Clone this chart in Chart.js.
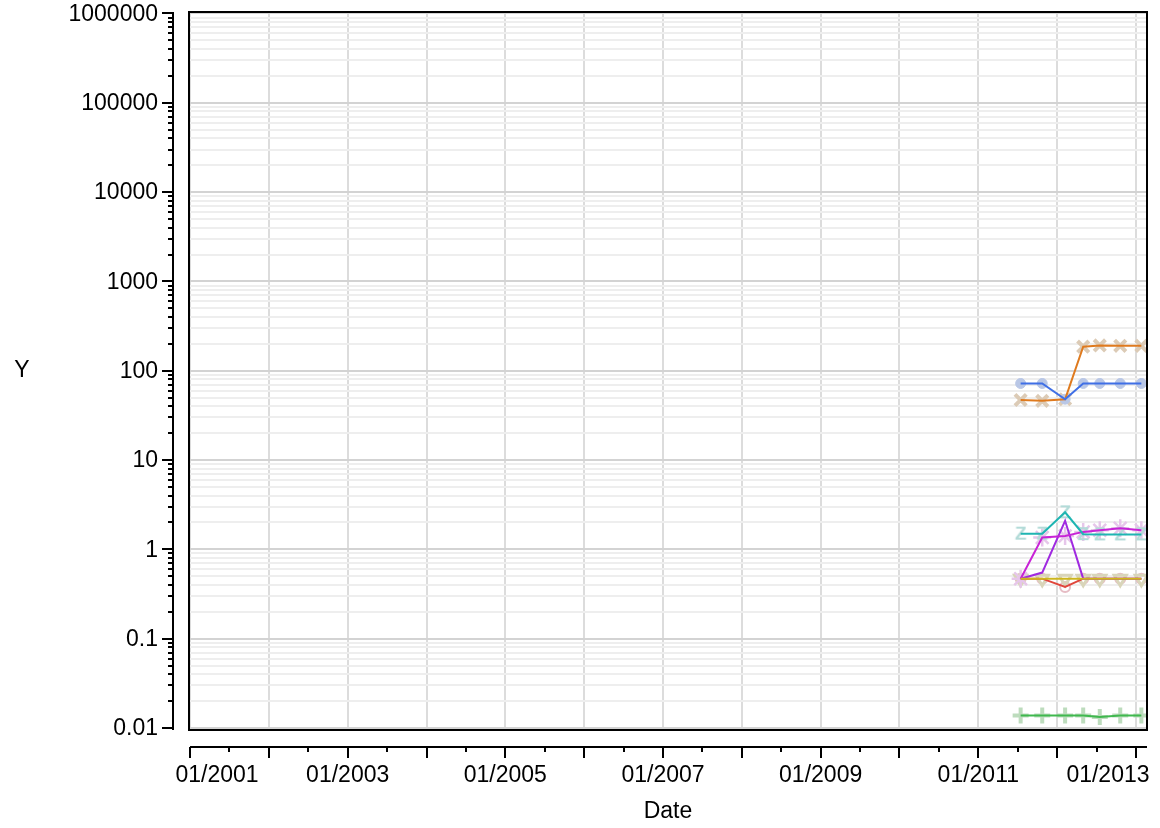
<!DOCTYPE html>
<html>
<head>
<meta charset="utf-8">
<script src="https://cdn.jsdelivr.net/npm/chart.js@4/dist/chart.umd.min.js"></script>
<style>
  html, body { margin: 0; padding: 0; background: #fff; }
  #wrap { width: 1160px; height: 828px; }
</style>
</head>
<body>
<div id="wrap"><canvas id="chart" width="1160" height="828"></canvas></div>
<script>
// Sample dates (one reading per quarter, roughly)
const sampleDates = ['2011-07-16', '2011-10-24', '2012-02-07', '2012-05-01', '2012-07-17', '2012-10-20', '2013-01-26'];

// Series values
const blueValues    = [72, 72, 48, 72, 72, 72, 72];
const orangeValues  = [47, 46, 48, 186, 192, 190, 190];
const tealValues    = [1.5, 1.5, 2.6, 1.48, 1.47, 1.47, 1.47];
const magentaValues = [0.47, 1.36, 1.41, 1.57, 1.64, 1.72, 1.64];
const purpleValues  = [0.47, 0.55, 2.09, 0.47, 0.47, 0.47, 0.47];
const redValues     = [0.47, 0.47, 0.38, 0.47, 0.47, 0.47, 0.47];
const goldValues    = [0.47, 0.47, 0.47, 0.47, 0.47, 0.47, 0.47];
const greenValues   = [0.0138, 0.0138, 0.0138, 0.0138, 0.0133, 0.0138, 0.0138];

// Axis ticks
const yTickValues = [0.01, 0.1, 1, 10, 100, 1000, 10000, 100000, 1000000];
const yTickLabels = ['0.01', '0.1', '1', '10', '100', '1000', '10000', '100000', '1000000'];
const xLabelYears = [2001, 2003, 2005, 2007, 2009, 2011, 2013];
const xGridYears  = [2001, 2002, 2003, 2004, 2005, 2006, 2007, 2008, 2009, 2010, 2011, 2012, 2013];

const FONT = '23px "Liberation Sans", Arial, sans-serif';

// date string -> fractional year
function toYear(s) {
    const d = new Date(s + 'T00:00:00Z');
    const y = d.getUTCFullYear();
    const start = Date.UTC(y, 0, 1), end = Date.UTC(y + 1, 0, 1);
    return y + (d.getTime() - start) / (end - start);
}
const xs = sampleDates.map(toYear);
const pts = vals => vals.map((v, i) => ({ x: xs[i], y: v }));

function isDecade(v) {
    const l = Math.log10(v);
    return Math.abs(l - Math.round(l)) < 1e-9;
}

// text glyph used as point marker (for the "Z" symbols)
function glyph(text, color, size) {
    const c = document.createElement('canvas');
    c.width = size; c.height = size;
    const g = c.getContext('2d');
    g.fillStyle = color;
    g.font = 'bold ' + (size + 1) + 'px "Liberation Sans", Arial, sans-serif';
    g.textAlign = 'center';
    g.textBaseline = 'middle';
    g.fillText(text, size / 2, size / 2 + 1);
    return c;
}

function lineSet(vals, color) {
    return { data: pts(vals), borderColor: color, borderWidth: 2, pointRadius: 0, tension: 0, fill: false };
}
function markSet(vals, style, color, radius, width, fillColor) {
    return {
        data: pts(vals), showLine: false, pointStyle: style, pointRadius: radius,
        borderColor: color, backgroundColor: fillColor || 'rgba(0,0,0,0)', pointBorderWidth: width,
        pointBackgroundColor: fillColor || 'rgba(0,0,0,0)', pointBorderColor: color
    };
}

// Lines first in the list (drawn on top), markers after (drawn underneath)
const datasets = [
    lineSet(blueValues, '#3f6fe6'),
    lineSet(orangeValues, '#df7a1e'),
    lineSet(goldValues, '#cdb61e'),
    lineSet(tealValues, '#1fb5b2'),
    lineSet(magentaValues, '#c823d6'),
    lineSet(purpleValues, '#a02ae0'),
    lineSet(redValues, '#e0463c'),
    lineSet(greenValues, '#3fb84e'),

    markSet(blueValues, 'circle', '#b9c7e6', 5, 1, '#b9c7e6'),
    markSet(orangeValues, 'crossRot', '#dccbb6', 8, 4),
    markSet(tealValues, glyph('Z', '#b3dbd8', 18), '#b3dbd8', 9, 1),
    markSet(magentaValues, 'star', '#e6c6ea', 9, 2.5),
    markSet(goldValues, 'triangle', '#d9d5b9', 7, 3),
    markSet(redValues, 'circle', '#e6bcc4', 5, 2),
    markSet(greenValues, 'cross', '#bddcbd', 8, 4)
];
// downward triangles for the gold markers
datasets[12].pointRotation = 180;

const axesPlugin = {
    id: 'axesPlugin',
    afterDraw(chart) {
        const { ctx, chartArea: a, scales: { x, y } } = chart;
        ctx.save();
        ctx.strokeStyle = '#000';
        ctx.fillStyle = '#000';
        ctx.lineWidth = 2;

        // plot frame
        ctx.strokeRect(a.left, a.top, a.right - a.left, a.bottom - a.top);

        // y axis, set off to the left of the frame
        const ax = a.left - 16;
        ctx.beginPath();
        ctx.moveTo(ax, a.top);
        ctx.lineTo(ax, a.bottom);
        for (let k = -2; k <= 6; k++) {
            for (let m = 1; m <= 9; m++) {
                const v = m * Math.pow(10, k);
                if (v < y.min || v > y.max) continue;
                const py = Math.round(y.getPixelForValue(v));
                ctx.moveTo(ax, py);
                ctx.lineTo(ax - (m === 1 ? 11 : 5), py);
            }
        }
        ctx.stroke();
        ctx.font = FONT;
        ctx.textAlign = 'right';
        ctx.textBaseline = 'middle';
        yTickValues.forEach((v, i) => {
            ctx.fillText(yTickLabels[i], ax - 15, y.getPixelForValue(v) + 1);
        });

        // x axis, set off below the frame
        const ay = a.bottom + 17;
        ctx.beginPath();
        ctx.moveTo(x.getPixelForValue(2001), ay);
        ctx.lineTo(a.right, ay);
        for (let t = 2001; t <= 2013; t += 0.5) {
            const px = Math.round(x.getPixelForValue(t));
            ctx.moveTo(px, ay);
            ctx.lineTo(px, ay + (t % 1 === 0 ? 11 : 5));
        }
        ctx.stroke();
        ctx.textAlign = 'center';
        ctx.textBaseline = 'top';
        xLabelYears.forEach((yr, i) => {
            let px = x.getPixelForValue(yr);
            if (i === 0) px += 27;
            if (i === xLabelYears.length - 1) px -= 28;
            ctx.fillText('01/' + yr, px, ay + 17);
        });

        // axis titles
        ctx.textBaseline = 'middle';
        ctx.fillText('Date', (a.left + a.right) / 2, 812);
        ctx.fillText('Y', 22, (a.top + a.bottom) / 2);
        ctx.restore();
    }
};

new Chart(document.getElementById('chart'), {
    type: 'line',
    data: { datasets },
    options: {
        responsive: false,
        animation: false,
        devicePixelRatio: 1,
        layout: { padding: { left: 189, top: 12, right: 13, bottom: 98 } },
        plugins: { legend: { display: false }, tooltip: { enabled: false } },
        scales: {
            x: {
                type: 'linear',
                min: 2000.987,
                max: 2013.14,
                afterBuildTicks: s => { s.ticks = xGridYears.map(v => ({ value: v })); },
                ticks: { display: false },
                border: { display: false },
                grid: { color: '#dcdcdc', lineWidth: 2, drawTicks: false }
            },
            y: {
                type: 'logarithmic',
                min: 0.0095,
                max: 1039000,
                afterBuildTicks: s => {
                    const t = [];
                    for (let k = -2; k <= 6; k++) {
                        for (let m = 1; m <= 9; m++) {
                            const v = m * Math.pow(10, k);
                            if (v >= s.min && v <= s.max) t.push({ value: v });
                        }
                    }
                    s.ticks = t;
                },
                ticks: { display: false },
                border: { display: false },
                grid: {
                    drawTicks: false,
                    lineWidth: 2,
                    color: c => (c.tick && isDecade(c.tick.value)) ? '#d3d3d3' : '#eeeeee'
                }
            }
        }
    },
    plugins: [axesPlugin]
});
</script>
</body>
</html>
